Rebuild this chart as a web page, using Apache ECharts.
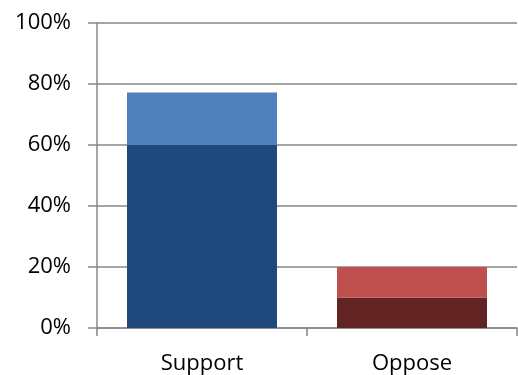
<!DOCTYPE html>
<html>
<head>
<meta charset="utf-8">
<script src="https://cdn.jsdelivr.net/npm/echarts@6/dist/echarts.min.js"></script>
<style>
  html, body { margin: 0; padding: 0; background: #fff; }
  #chart { width: 518px; height: 375px; }
</style>
</head>
<body>
<div id="chart"></div>
<script>
// categories and the two stacked parts of each bar (percent)
const categories = ['Support', 'Oppose'];
const lowerPart = [60, 10];
const upperPart = [17.2, 10];
const yTicks = [0, 20, 40, 60, 80, 100];

const lowerColors = ['#1f497d', '#632523'];
const upperColors = ['#4f81bd', '#c0504d'];

const chart = echarts.init(document.getElementById('chart'));
const gridColor = '#878787';

chart.setOption({
  animation: false,
  grid: { left: 97, right: 1, top: 23, bottom: 46 },
  xAxis: {
    type: 'category',
    data: categories,
    axisLine: { lineStyle: { color: gridColor, width: 1.5 } },
    axisTick: { show: true, length: 8, lineStyle: { color: gridColor, width: 1.5 } },
    axisLabel: { color: '#000', fontSize: 22, fontFamily: 'Open Sans', margin: 25 }
  },
  yAxis: {
    type: 'value',
    min: 0,
    max: 100,
    interval: 20,
    axisLine: { show: true, lineStyle: { color: gridColor, width: 1.5 } },
    axisTick: { show: true, length: 9, lineStyle: { color: gridColor, width: 1.5 } },
    splitLine: { lineStyle: { color: gridColor, width: 1.5 } },
    axisLabel: {
      color: '#000', fontSize: 22, fontFamily: 'Open Sans', margin: 26,
      formatter: v => yTicks.includes(v) ? v + '%' : ''
    }
  },
  series: [
    {
      type: 'bar',
      stack: 'all',
      barWidth: 150,
      data: lowerPart.map((v, i) => ({ value: v, itemStyle: { color: lowerColors[i] } }))
    },
    {
      type: 'bar',
      stack: 'all',
      barWidth: 150,
      data: upperPart.map((v, i) => ({ value: v, itemStyle: { color: upperColors[i] } }))
    }
  ]
});
</script>
</body>
</html>
